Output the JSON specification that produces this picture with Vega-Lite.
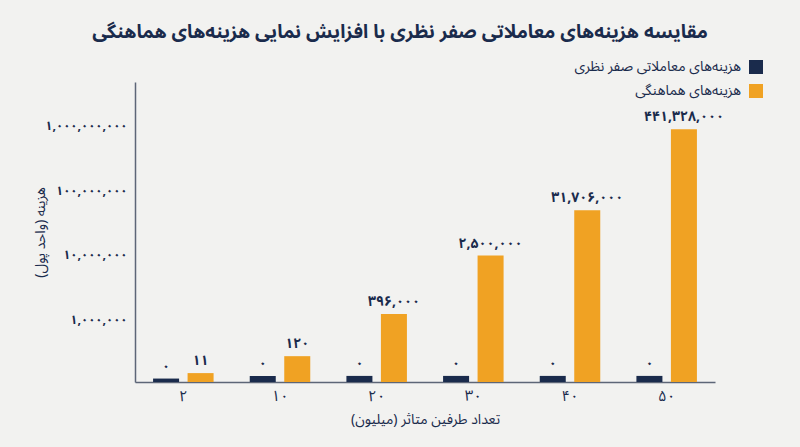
{
  "$schema": "https://vega.github.io/schema/vega-lite/v6.json",
  "autosize": {"type": "none"},
  "padding": {"left": 135, "top": 82, "right": 85, "bottom": 66},
  "width": 580,
  "height": 300,
  "background": "#f2f2f0",
  "config": {
    "view": {"stroke": null},
    "font": "'Noto Sans Arabic', 'DejaVu Sans', sans-serif"
  },
  "title": {
    "text": "مقایسه هزینه‌های معاملاتی صفر نظری با افزایش نمایی هزینه‌های هماهنگی",
    "fontSize": 19,
    "fontWeight": "bold",
    "color": "#1a2b4c",
    "anchor": "middle",
    "frame": "group",
    "dx": -25,
    "offset": 18
  },
  "data": {
    "values": [
      {"parties": "۲", "series": "هزینه‌های معاملاتی صفر نظری", "value": 121000, "label": "۰"},
      {"parties": "۲", "series": "هزینه‌های هماهنگی", "value": 147000, "label": "۱۱"},
      {"parties": "۱۰", "series": "هزینه‌های معاملاتی صفر نظری", "value": 133000, "label": "۰"},
      {"parties": "۱۰", "series": "هزینه‌های هماهنگی", "value": 269000, "label": "۱۲۰"},
      {"parties": "۲۰", "series": "هزینه‌های معاملاتی صفر نظری", "value": 133000, "label": "۰"},
      {"parties": "۲۰", "series": "هزینه‌های هماهنگی", "value": 1210000, "label": "۳۹۶,۰۰۰"},
      {"parties": "۳۰", "series": "هزینه‌های معاملاتی صفر نظری", "value": 133000, "label": "۰"},
      {"parties": "۳۰", "series": "هزینه‌های هماهنگی", "value": 9750000, "label": "۲,۵۰۰,۰۰۰"},
      {"parties": "۴۰", "series": "هزینه‌های معاملاتی صفر نظری", "value": 133000, "label": "۰"},
      {"parties": "۴۰", "series": "هزینه‌های هماهنگی", "value": 49200000, "label": "۳۱,۷۰۶,۰۰۰"},
      {"parties": "۵۰", "series": "هزینه‌های معاملاتی صفر نظری", "value": 133000, "label": "۰"},
      {"parties": "۵۰", "series": "هزینه‌های هماهنگی", "value": 883000000, "label": "۴۴۱,۳۲۸,۰۰۰"}
    ]
  },
  "encoding": {
    "x": {
      "field": "parties",
      "type": "nominal",
      "sort": null,
      "scale": {"paddingInner": 0.374, "paddingOuter": 0.187},
      "axis": {
        "title": "تعداد طرفین متاثر (میلیون)‏",
        "labelAngle": 0,
        "labelFontSize": 15,
        "labelColor": "#1a2b4c",
        "labelPadding": 6,
        "ticks": false,
        "domainColor": "#5d6677",
        "domainWidth": 1.5,
        "titleFontSize": 14,
        "titleFontWeight": "normal",
        "titleColor": "#1a2b4c",
        "titlePadding": 9
      }
    },
    "xOffset": {
      "field": "series",
      "type": "nominal",
      "sort": ["هزینه‌های معاملاتی صفر نظری", "هزینه‌های هماهنگی"],
      "scale": {"paddingInner": 0.246, "paddingOuter": 0}
    },
    "y": {
      "field": "value",
      "type": "quantitative",
      "stack": null,
      "scale": {"type": "log", "domain": [107000, 4780000000], "nice": false},
      "axis": {
        "title": "هزینه (واحد پول)‏",
        "values": [1000000, 10000000, 100000000, 1000000000],
        "labelExpr": "replace(replace(format(datum.value, ','), regexp('0', 'g'), '۰'), regexp('1', 'g'), '۱')",
        "labelFontSize": 12.5,
        "labelFontWeight": "bold",
        "labelColor": "#1a2b4c",
        "labelPadding": 8,
        "ticks": false,
        "grid": false,
        "domainColor": "#5d6677",
        "domainWidth": 1.5,
        "titleFontSize": 14,
        "titleFontWeight": "normal",
        "titleColor": "#1a2b4c",
        "titlePadding": -3
      }
    }
  },
  "layer": [
    {
      "mark": {"type": "bar"},
      "encoding": {
        "color": {
          "field": "series",
          "type": "nominal",
          "scale": {
            "domain": ["هزینه‌های معاملاتی صفر نظری", "هزینه‌های هماهنگی"],
            "range": ["#1a2b4c", "#f0a223"]
          },
          "legend": {
            "title": null,
            "orient": "none",
            "legendX": 614,
            "legendY": -22,
            "padding": 0,
            "symbolType": "square",
            "symbolSize": 196,
            "symbolStrokeWidth": 0,
            "symbolOpacity": 1,
            "labelAlign": "right",
            "labelOffset": -22,
            "labelFontSize": 14,
            "labelColor": "#1a2b4c",
            "labelLimit": 300,
            "rowPadding": 10
          }
        }
      }
    },
    {
      "mark": {"type": "text", "baseline": "bottom", "dy": -5, "fontSize": 14, "fontWeight": "bold", "color": "#1a2b4c"},
      "encoding": {
        "text": {"field": "label", "type": "nominal"}
      }
    }
  ]
}
